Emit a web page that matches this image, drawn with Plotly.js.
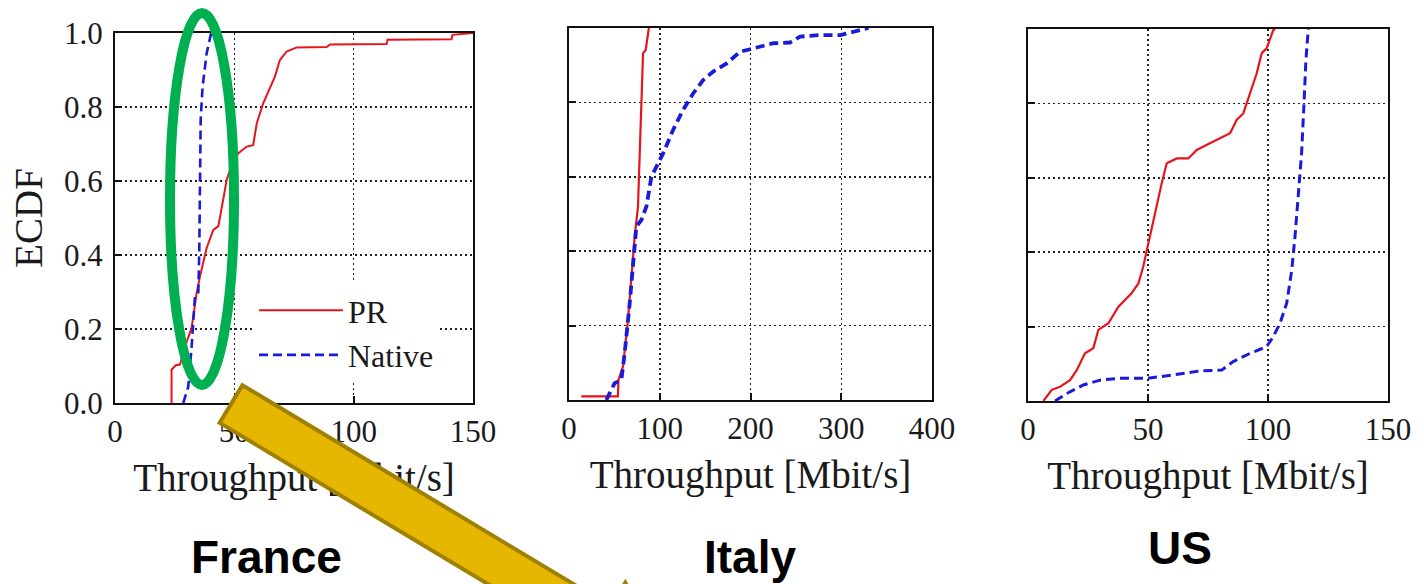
<!DOCTYPE html>
<html><head><meta charset="utf-8">
<script src="https://cdn.plot.ly/plotly-3.0.1.min.js"></script>
<style>html,body{margin:0;padding:0;background:#fff}#chart{width:1424px;height:584px}</style>
</head><body><div id="chart"></div>
<script>
const W = 1424, H = 584;

// ---- text / categories ----
const seriesNames = ['PR', 'Native'];
const panelLabels = ['France', 'Italy', 'US'];
const xAxisTitle = 'Throughput [Mbit/s]';
const yAxisTitle = 'ECDF';
const franceXTicks = [0, 50, 100, 150];
const italyXTicks = [0, 100, 200, 300, 400];
const usXTicks = [0, 50, 100, 150];
const yTicks = [0, 0.2, 0.4, 0.6, 0.8, 1.0];

// ---- France ----
const francePR_x = [23.7, 23.7, 25.5, 27.2, 28.5, 30, 32.1, 34.2, 35.6, 38.4, 41.2, 43.3, 44.7, 46.8, 49.6, 51.7, 55.2, 57.9, 59.4, 62.1, 64.2, 67.0, 69.1, 71.9, 76.1, 88.7, 90.1, 113.8, 114.2, 141.0, 141.4, 150];
const francePR_y = [0, 0.09, 0.102, 0.104, 0.13, 0.165, 0.203, 0.297, 0.342, 0.419, 0.468, 0.478, 0.527, 0.603, 0.657, 0.675, 0.693, 0.697, 0.756, 0.81, 0.841, 0.882, 0.927, 0.95, 0.961, 0.962, 0.969, 0.97, 0.982, 0.983, 0.995, 1.0];
const franceNative_x = [28.6, 30.7, 32.1, 32.8, 33.5, 34.9, 35.3, 35.6, 35.9, 36.7, 38.4, 39.8, 40.3];
const franceNative_y = [0, 0.044, 0.152, 0.224, 0.287, 0.296, 0.405, 0.585, 0.765, 0.855, 0.945, 0.986, 1.0];

// ---- Italy ----
const italyPR_x = [13.5, 53.9, 54.5, 59.5, 65, 68.7, 72.4, 76, 77.9, 80.9, 81.6, 84.5, 87.1, 88];
const italyPR_y = [0.01, 0.01, 0.054, 0.09, 0.215, 0.34, 0.439, 0.52, 0.663, 0.842, 0.932, 0.941, 0.995, 1.0];
const italyNative_x = [41.1, 50.3, 57.7, 61.3, 66.9, 70.5, 74.2, 79.8, 85.3, 90.8, 96.4, 103.7, 114.7, 125.7, 136.8, 147.8, 158.9, 173.7, 188.4, 203.1, 225.2, 243.6, 254.7, 276.8, 298.9, 313.6, 330];
const italyNative_y = [0, 0.045, 0.054, 0.125, 0.26, 0.376, 0.466, 0.484, 0.52, 0.6, 0.627, 0.663, 0.726, 0.78, 0.824, 0.86, 0.883, 0.905, 0.936, 0.945, 0.959, 0.961, 0.977, 0.981, 0.981, 0.99, 1.0];

// ---- US ----
const usPR_x = [6.4, 9.9, 13.3, 17.5, 20.3, 23.75, 27.2, 29.3, 33.5, 37.6, 43.2, 46, 48, 49.5, 51.5, 53.6, 55.7, 57.8, 62, 66.8, 70.3, 75.8, 80, 84.2, 87, 89.7, 92.5, 95.3, 97.4, 99.4, 102.2, 103];
const usPR_y = [0, 0.03, 0.038, 0.056, 0.083, 0.128, 0.142, 0.191, 0.209, 0.253, 0.29, 0.316, 0.361, 0.406, 0.46, 0.522, 0.585, 0.639, 0.652, 0.652, 0.675, 0.693, 0.706, 0.72, 0.756, 0.773, 0.827, 0.881, 0.935, 0.948, 0.997, 1.0];
const usNative_x = [11.25, 16.1, 23, 30, 38.3, 49.5, 60.5, 71.7, 80.7, 85.5, 92.5, 99.4, 102.2, 105, 107.8, 109.9, 111.25, 112.6, 114, 115, 115.8, 116.8];
const usNative_y = [0, 0.02, 0.043, 0.056, 0.061, 0.061, 0.07, 0.081, 0.083, 0.106, 0.128, 0.146, 0.173, 0.209, 0.263, 0.352, 0.442, 0.558, 0.666, 0.8, 0.917, 1.0];

// ---- styling ----
const RED = '#e8141c', BLUE = '#1a1adc';
const SERIF = 'Liberation Serif, Times New Roman, serif';
const px = v => v / W, py = v => 1 - v / H;

function tr(x, y, name, ax, isPR, width, show) {
  return {
    x: x, y: y, name: name, type: 'scatter', mode: 'lines',
    xaxis: ax[0], yaxis: ax[1], showlegend: show, hoverinfo: 'skip',
    line: isPR ? {color: RED, width: width} : {color: BLUE, width: width + 0.6, dash: '9px,5px'}
  };
}

const data = [
  tr(francePR_x, francePR_y, seriesNames[0], ['x', 'y'], true, 2, true),
  tr(franceNative_x, franceNative_y, seriesNames[1], ['x', 'y'], false, 2, true),
  tr(italyPR_x, italyPR_y, seriesNames[0], ['x2', 'y2'], true, 2.2, false),
  tr(italyNative_x, italyNative_y, seriesNames[1], ['x2', 'y2'], false, 3.2, false),
  tr(usPR_x, usPR_y, seriesNames[0], ['x3', 'y3'], true, 2.2, false),
  tr(usNative_x, usNative_y, seriesNames[1], ['x3', 'y3'], false, 2.4, false)
];

const common = {
  showline: true, linecolor: '#111', linewidth: 2, mirror: true,
  ticks: 'inside', ticklen: 7, tickwidth: 2, tickcolor: '#111',
  showgrid: true, gridcolor: '#222', gridwidth: 1.5, griddash: '2px,3px',
  zeroline: false, fixedrange: true,
  tickfont: {family: SERIF, size: 31, color: '#1a1a1a'}
};
function xa(dom, anchor, range, ticks) {
  return Object.assign({}, common, {
    domain: dom, anchor: anchor, range: range, tickvals: ticks, ticktext: ticks.map(String),
    ticklabelstandoff: 0,
    title: {text: xAxisTitle, font: {family: SERIF, size: 39, color: '#1a1a1a'}, standoff: 15}
  });
}
function ya(dom, anchor, labels, title) {
  const o = Object.assign({}, common, {
    domain: dom, anchor: anchor, range: [0, 1], tickvals: yTicks,
    ticktext: yTicks.map(v => v.toFixed(1)), showticklabels: labels, ticklabelstandoff: 4
  });
  if (title) o.title = {text: yAxisTitle, font: {family: SERIF, size: 39, color: '#1a1a1a'}, standoff: 9};
  return o;
}

// yellow arrow (decoration) as a paper-referenced path
const ang = 31 * Math.PI / 180, dx = Math.cos(ang), dy = Math.sin(ang);
const nx = dy, ny = -dx;             // perpendicular (towards upper right)
const endPt = [231, 404], hw = 22, t0 = 430, hh = 50, hl = 90;
function pt(t, s) { const X = endPt[0] + t * dx + s * nx, Y = endPt[1] + t * dy + s * ny; return px(X).toFixed(5) + ',' + py(Y).toFixed(5); }
const arrowPath = 'M' + pt(0, hw) + ' L' + pt(t0, hw) + ' L' + pt(t0, hh) + ' L' + pt(t0 + hl, 0) +
                  ' L' + pt(t0, -hh) + ' L' + pt(t0, -hw) + ' L' + pt(0, -hw) + ' Z';

const labelFont = {family: 'Liberation Sans, Arial, sans-serif', size: 46, color: '#000', weight: 'bold'};
function lab(text, x, y) {
  return {xref: 'paper', yref: 'paper', x: px(x), y: py(y), xanchor: 'center', yanchor: 'middle',
          text: '<b>' + text + '</b>', showarrow: false, font: labelFont};
}
const layout = {
  width: W, height: H, margin: {l: 0, r: 0, t: 0, b: 0},
  paper_bgcolor: '#fff', plot_bgcolor: '#fff',
  xaxis: xa([px(115), px(473)], 'y', [0, 150], franceXTicks),
  yaxis: ya([py(403), py(33)], 'x', true, true),
  xaxis2: xa([px(569), px(932)], 'y2', [0, 400], italyXTicks),
  yaxis2: ya([py(400), py(28)], 'x2', false, false),
  xaxis3: xa([px(1028), px(1388)], 'y3', [0, 150], usXTicks),
  yaxis3: ya([py(401), py(29)], 'x3', false, false),
  legend: {
    x: px(254), y: py(283), xanchor: 'left', yanchor: 'top', bgcolor: '#fff', borderwidth: 0,
    font: {family: SERIF, size: 32, color: '#1a1a1a'}, itemwidth: 84, tracegroupgap: 0
  },
  shapes: [
    {type: 'circle', xref: 'paper', yref: 'paper', x0: px(170), x1: px(234), y0: py(385), y1: py(13),
     line: {color: '#00b050', width: 10}, layer: 'above'},
    {type: 'path', xref: 'paper', yref: 'paper', path: arrowPath, fillcolor: '#e5b700',
     line: {color: '#a08000', width: 4}, layer: 'above'}
  ],
  annotations: [
    lab(panelLabels[0], 266, 557),
    lab(panelLabels[1], 750, 557),
    lab(panelLabels[2], 1180, 548)
  ]
};

Plotly.newPlot('chart', data, layout, {displayModeBar: false, staticPlot: true}).then(function (gd) {
  // keep the overlay drawing (ellipse, arrow) above the axis titles, as in the source image
  const la = gd.querySelector('.layer-above');
  if (la && la.parentNode) la.parentNode.appendChild(la);
});
</script></body></html>
